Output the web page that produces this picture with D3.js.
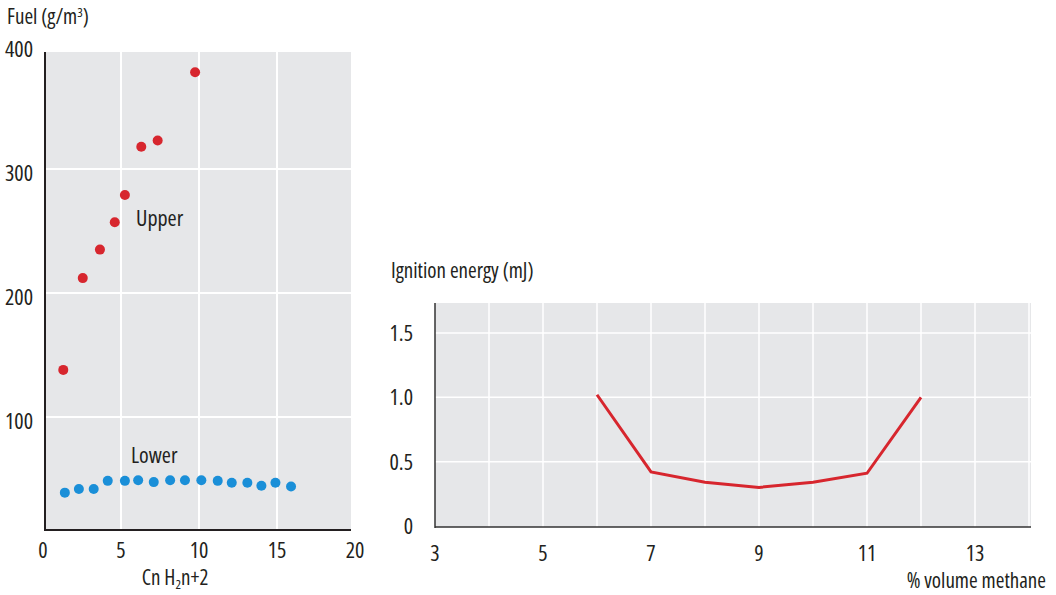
<!DOCTYPE html>
<html>
<head>
<meta charset="utf-8">
<script src="https://cdn.jsdelivr.net/npm/d3@7"></script>
<style>
  body { margin: 0; background: #fff; }
  text { font-family: "Open Sans", sans-serif; font-stretch: condensed; fill: #231f20; }
</style>
</head>
<body>
<div id="chart"></div>
<script>
// left chart: flammability limits vs carbon number
const upperN = [1.3, 2.55, 3.65, 4.6, 5.25, 6.3, 7.35, 9.75];
const upperFuel = [138, 212, 235, 257, 279, 318, 323, 378];
const lowerN = [1.4, 2.3, 3.25, 4.15, 5.25, 6.1, 7.1, 8.15, 9.1, 10.15, 11.2, 12.1, 13.1, 14.0, 14.9, 15.9];
const lowerFuel = [39, 42, 42, 48.5, 48.5, 49, 47.5, 49, 49, 49, 48.5, 47, 47, 44.5, 47, 44];
const leftXTicks = [0, 5, 10, 15, 20];
const leftYTicks = [100, 200, 300, 400];

// right chart: ignition energy vs methane concentration
const methane = [6, 7, 8, 9, 10, 11, 12];
const energy = [1.02, 0.42, 0.34, 0.30, 0.34, 0.41, 1.0];
const rightXTicks = [3, 5, 7, 9, 11, 13];
const rightYTicks = [0, 0.5, 1.0, 1.5];

const red = "#d7262e";
const blue = "#1a8fd8";
const bg = "#e6e7e9";
const fs = 22;

const svg = d3.select("#chart").append("svg")
    .attr("width", 1056)
    .attr("height", 595);

// ---------- left chart ----------
const xL = d3.scaleLinear().domain([0, 20]).range([43, 355]);
const yL = d3.scaleLinear().domain([0, 400]).range([541, 45]);
const left = { x0: 45, x1: 351, y0: 52, y1: 530 };

const gL = svg.append("g");

gL.append("rect")
    .attr("x", left.x0)
    .attr("y", left.y0)
    .attr("width", left.x1 - left.x0)
    .attr("height", left.y1 - left.y0)
    .attr("fill", bg);

gL.selectAll(".vgrid")
    .data(leftXTicks.filter(d => d > 0 && d < 20))
    .enter()
    .append("line")
    .attr("x1", d => xL(d)).attr("x2", d => xL(d))
    .attr("y1", left.y0).attr("y2", left.y1)
    .attr("stroke", "#fff").attr("stroke-width", 2);

gL.selectAll(".hgrid")
    .data(leftYTicks.filter(d => yL(d) > left.y0))
    .enter()
    .append("line")
    .attr("x1", left.x0).attr("x2", left.x1)
    .attr("y1", d => yL(d)).attr("y2", d => yL(d))
    .attr("stroke", "#fff").attr("stroke-width", 2);

gL.append("line")
    .attr("x1", left.x0).attr("x2", left.x0)
    .attr("y1", left.y0).attr("y2", left.y1 + 1)
    .attr("stroke", "#231f20").attr("stroke-width", 2);
gL.append("line")
    .attr("x1", left.x0 - 1).attr("x2", left.x1)
    .attr("y1", left.y1).attr("y2", left.y1)
    .attr("stroke", "#231f20").attr("stroke-width", 2);

gL.selectAll(".ylab")
    .data(leftYTicks)
    .enter()
    .append("text")
    .attr("x", 33)
    .attr("y", d => yL(d) + 12)
    .attr("text-anchor", "end")
    .attr("font-size", fs)
    .text(d => d);

gL.selectAll(".xlab")
    .data(leftXTicks)
    .enter()
    .append("text")
    .attr("x", d => xL(d))
    .attr("y", 558)
    .attr("text-anchor", "middle")
    .attr("font-size", fs)
    .text(d => d);

gL.selectAll(".upper")
    .data(upperN)
    .enter()
    .append("circle")
    .attr("cx", d => xL(d))
    .attr("cy", (d, i) => yL(upperFuel[i]))
    .attr("r", 5)
    .attr("fill", red);

gL.selectAll(".lower")
    .data(lowerN)
    .enter()
    .append("circle")
    .attr("cx", d => xL(d))
    .attr("cy", (d, i) => yL(lowerFuel[i]))
    .attr("r", 5)
    .attr("fill", blue);

gL.append("text").attr("x", 136).attr("y", 226).attr("font-size", fs).text("Upper");
gL.append("text").attr("x", 131).attr("y", 463).attr("font-size", fs).text("Lower");

const fuelTitle = gL.append("text").attr("x", 7).attr("y", 24).attr("font-size", 21);
fuelTitle.append("tspan").text("Fuel (g/m");
fuelTitle.append("tspan").attr("font-size", 13).attr("dy", -7).text("3");
fuelTitle.append("tspan").attr("dy", 7).text(")");

const cnTitle = gL.append("text").attr("x", 175).attr("y", 585).attr("text-anchor", "middle").attr("font-size", 21);
cnTitle.append("tspan").text("Cn H");
cnTitle.append("tspan").attr("font-size", 13).attr("dy", 4).text("2");
cnTitle.append("tspan").attr("dy", -4).text("n+2");

// ---------- right chart ----------
const xR = d3.scaleLinear().domain([3, 14]).range([435, 1029]);
const yR = d3.scaleLinear().domain([0, 1.5]).range([526, 333]);
const right = { x0: 435, x1: 1031, y0: 303, y1: 527 };

const gR = svg.append("g");

gR.append("rect")
    .attr("x", right.x0)
    .attr("y", right.y0)
    .attr("width", right.x1 - right.x0)
    .attr("height", right.y1 - right.y0)
    .attr("fill", bg);

gR.selectAll(".vgrid")
    .data(d3.range(4, 15))
    .enter()
    .append("line")
    .attr("x1", d => xR(d)).attr("x2", d => xR(d))
    .attr("y1", right.y0).attr("y2", right.y1)
    .attr("stroke", "#fff").attr("stroke-width", 1.5);

gR.selectAll(".hgrid")
    .data(rightYTicks.filter(d => d > 0))
    .enter()
    .append("line")
    .attr("x1", right.x0).attr("x2", right.x1)
    .attr("y1", d => yR(d)).attr("y2", d => yR(d))
    .attr("stroke", "#fff").attr("stroke-width", 1.5);

gR.append("line")
    .attr("x1", right.x0).attr("x2", right.x0)
    .attr("y1", right.y0).attr("y2", right.y1 + 1)
    .attr("stroke", "#333").attr("stroke-width", 1.5);
gR.append("line")
    .attr("x1", right.x0).attr("x2", right.x1)
    .attr("y1", right.y1).attr("y2", right.y1)
    .attr("stroke", "#333").attr("stroke-width", 1.5);

gR.selectAll(".ylab")
    .data(rightYTicks)
    .enter()
    .append("text")
    .attr("x", 413)
    .attr("y", d => yR(d) + 8)
    .attr("text-anchor", "end")
    .attr("font-size", fs)
    .text(d => d === 0 ? "0" : d.toFixed(1));

gR.selectAll(".xlab")
    .data(rightXTicks)
    .enter()
    .append("text")
    .attr("x", d => xR(d))
    .attr("y", 561)
    .attr("text-anchor", "middle")
    .attr("font-size", fs)
    .text(d => d);

const line = d3.line()
    .x(d => xR(d))
    .y((d, i) => yR(energy[i]));

gR.append("path")
    .datum(methane)
    .attr("d", line)
    .attr("fill", "none")
    .attr("stroke", red)
    .attr("stroke-width", 3);

gR.append("text").attr("x", 391).attr("y", 278).attr("font-size", 21).text("Ignition energy (mJ)");
gR.append("text").attr("x", 1046).attr("y", 588).attr("text-anchor", "end").attr("font-size", 21).text("% volume methane");
</script>
</body>
</html>
